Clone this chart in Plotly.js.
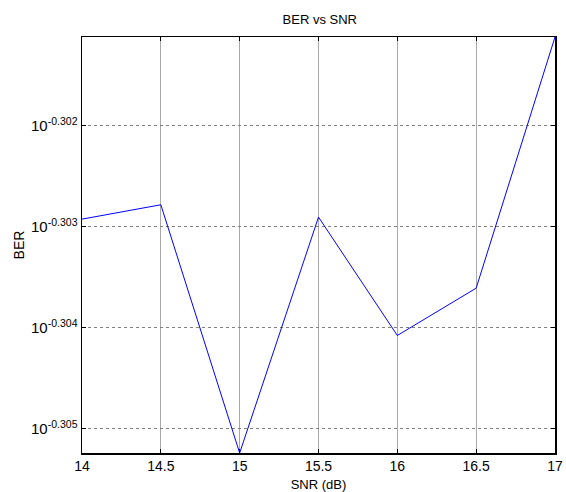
<!DOCTYPE html>
<html>
<head>
<meta charset="utf-8">
<script src="https://cdn.plot.ly/plotly-3.0.1.min.js"></script>
<style>html,body{margin:0;padding:0;background:#fff;}#chart{width:566px;height:492px;}</style>
</head>
<body>
<div id="chart"></div>
<script>
const snr = [14, 14.5, 15, 15.5, 16, 16.5, 17];
const ber = [0.497824, 0.497987, 0.495176, 0.497847, 0.496505, 0.497041, 0.499896];
const yTickExponents = [-0.302, -0.303, -0.304, -0.305];
const yTickLabels = ['10<sup>-0.302</sup>', '10<sup>-0.303</sup>', '10<sup>-0.304</sup>', '10<sup>-0.305</sup>'];
const xTicks = [14, 14.5, 15, 15.5, 16, 16.5, 17];

const font = {family: 'Liberation Sans, Arial, sans-serif', color: '#000'};
const logMin = Math.log10(Math.min(...ber));
const logMax = Math.log10(Math.max(...ber));

Plotly.newPlot('chart', [{
  x: snr, y: ber, type: 'scatter', mode: 'lines',
  line: {color: '#0000ff', width: 1}
}], {
  width: 566, height: 492,
  margin: {l: 82, r: 11, t: 37, b: 39},
  paper_bgcolor: '#fff', plot_bgcolor: '#fff',
  showlegend: false,
  font: Object.assign({size: 14}, font),
  title: {text: 'BER vs SNR', font: Object.assign({size: 13}, font), x: 0.565, xanchor: 'center', y: 0.96, yanchor: 'middle'},
  xaxis: {
    range: [14, 17], tickvals: xTicks, ticktext: xTicks.map(String),
    showgrid: true, gridcolor: '#a8a8a8', gridwidth: 1,
    ticks: 'inside', ticklen: 4, tickcolor: '#000',
    showline: true, linecolor: '#000', linewidth: 1.5, mirror: 'ticks',
    zeroline: false, tickfont: Object.assign({size: 14}, font),
    title: {text: 'SNR (dB)', font: Object.assign({size: 13}, font), standoff: 10}
  },
  yaxis: {
    type: 'log', range: [logMin, logMax],
    tickvals: yTickExponents.map(e => Math.pow(10, e)), ticktext: yTickLabels,
    showgrid: true, gridcolor: '#808080', gridwidth: 1, griddash: 'dot',
    ticks: 'inside', ticklen: 4, tickcolor: '#000',
    showline: true, linecolor: '#000', linewidth: 1.5, mirror: 'ticks',
    zeroline: false, tickfont: Object.assign({size: 15}, font),
    title: {text: 'BER', font: Object.assign({size: 14}, font), standoff: 3}
  }
}, {displayModeBar: false, staticPlot: true});
</script>
</body>
</html>
